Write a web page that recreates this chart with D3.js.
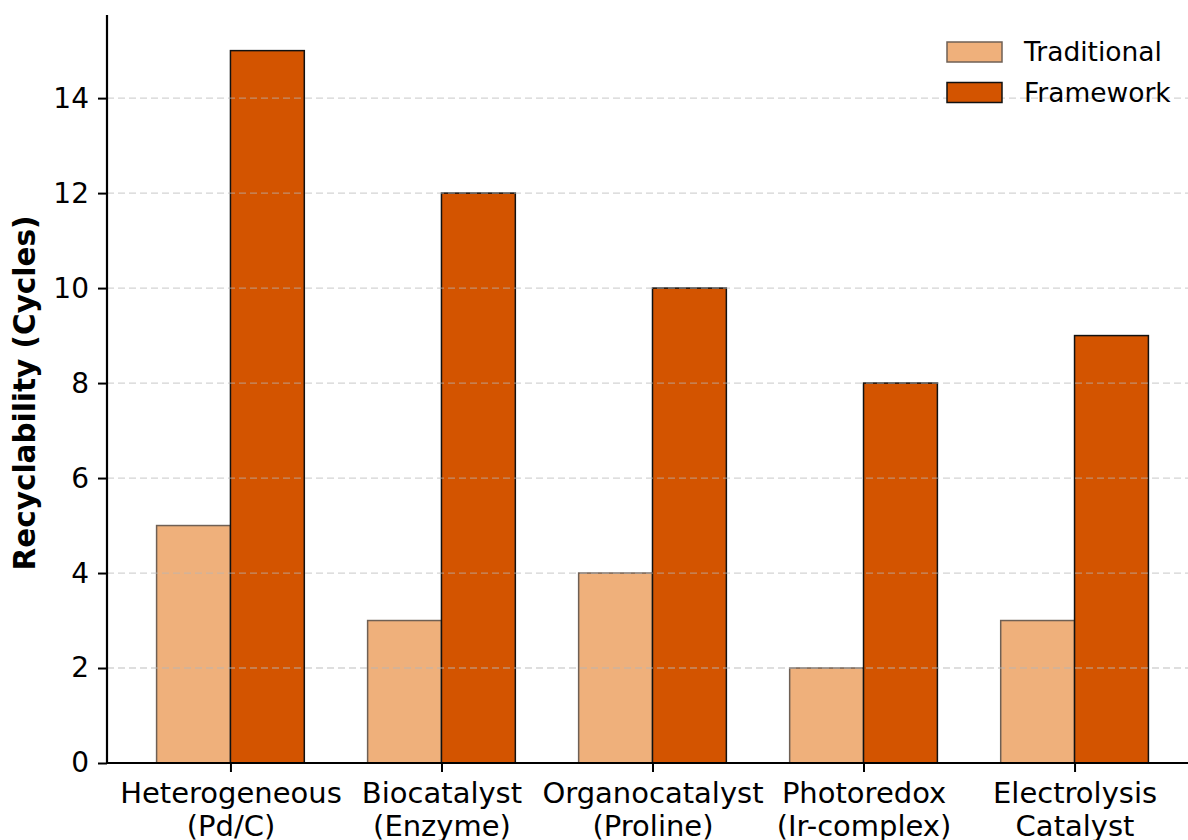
<!DOCTYPE html>
<html>
<head>
<meta charset="utf-8">
<script src="https://cdn.jsdelivr.net/npm/d3@7"></script>
<style>
  html, body { margin: 0; padding: 0; background: #fff; }
  svg { display: block; }
  text { font-family: "DejaVu Sans", sans-serif; fill: #000; }
</style>
</head>
<body>
<svg id="chart" width="1188" height="840"></svg>
<script>
const categories = [
  ["Heterogeneous", "(Pd/C)"],
  ["Biocatalyst", "(Enzyme)"],
  ["Organocatalyst", "(Proline)"],
  ["Photoredox", "(Ir-complex)"],
  ["Electrolysis", "Catalyst"]
];
const seriesNames = ["Traditional", "Framework"];
const traditional = [5, 3, 4, 2, 3];
const framework = [15, 12, 10, 8, 9];
const yTicks = [0, 2, 4, 6, 8, 10, 12, 14];
const yLabel = "Recyclability (Cycles)";

const fills = ["#EFB07B", "#D35400"];
const strokes = ["#6f6055", "#111"];

const svg = d3.select("#chart");
const W = 1188, H = 840;

const x = d3.scaleLinear().domain([-0.585, 4.585]).range([107, 1198]);
const y = d3.scaleLinear().domain([0, 15.75]).range([763, 15]);
const barW = 0.35;

const series = [traditional, framework];

// bars
series.forEach((vals, s) => {
  svg.append("g").selectAll("rect").data(vals).join("rect")
    .attr("x", (d, i) => x(i + (s === 0 ? -barW : 0)))
    .attr("width", x(barW) - x(0))
    .attr("y", d => y(d))
    .attr("height", d => y(0) - y(d))
    .attr("fill", fills[s])
    .attr("stroke", strokes[s])
    .attr("stroke-width", 1.5);
});

// grid (drawn above bars)
svg.append("g").selectAll("line").data(yTicks.filter(t => t > 0)).join("line")
  .attr("x1", 107).attr("x2", W)
  .attr("y1", d => y(d)).attr("y2", d => y(d))
  .attr("stroke", "#b8b8b8").attr("stroke-opacity", 0.6)
  .attr("stroke-width", 1.3)
  .attr("stroke-dasharray", "7,4");

// y axis
const yAxis = svg.append("g").attr("transform", "translate(107,0)")
  .call(d3.axisLeft(y).tickValues(yTicks).tickSize(9).tickPadding(9).tickFormat(d3.format("d")));
yAxis.select(".domain").attr("stroke", "#000").attr("stroke-width", 2.2)
  .attr("d", `M0,${y(15.75)}V${y(0)}`);
yAxis.selectAll(".tick line").attr("stroke", "#000").attr("stroke-width", 2);
yAxis.selectAll(".tick text").attr("font-size", 28).attr("fill", "#000")
  .style("font-family", "'DejaVu Sans', sans-serif");

// x axis
const xAxis = svg.append("g").attr("transform", `translate(0,${y(0)})`)
  .call(d3.axisBottom(x).tickValues(d3.range(categories.length)).tickSize(9).tickFormat(() => ""));
xAxis.select(".domain").attr("stroke", "#000").attr("stroke-width", 2.2)
  .attr("d", `M107,0H${W}`);
xAxis.selectAll(".tick line").attr("stroke", "#000").attr("stroke-width", 2);
xAxis.selectAll(".tick").each(function(d) {
  const t = d3.select(this).append("text")
    .attr("text-anchor", "middle")
    .attr("font-size", 29)
    .attr("fill", "#000")
    .attr("y", 40);
  categories[d].forEach((line, k) => {
    t.append("tspan").attr("x", 0).attr("dy", k === 0 ? 0 : 33).text(line);
  });
});

// y label
svg.append("text")
  .attr("transform", `translate(35,${(y(0) + y(15.75)) / 2 + 4}) rotate(-90)`)
  .attr("text-anchor", "middle")
  .attr("font-size", 29.5)
  .attr("font-weight", "bold")
  .text(yLabel);

// legend
const legend = svg.append("g");
seriesNames.forEach((name, s) => {
  const g = legend.append("g").attr("transform", `translate(947,${42 + s * 40.5})`);
  g.append("rect").attr("width", 55).attr("height", 20)
    .attr("fill", fills[s]).attr("stroke", strokes[s]).attr("stroke-width", 1.5);
  g.append("text").attr("x", 77).attr("y", 19).attr("font-size", 26.5).text(name);
});
</script>
</body>
</html>
